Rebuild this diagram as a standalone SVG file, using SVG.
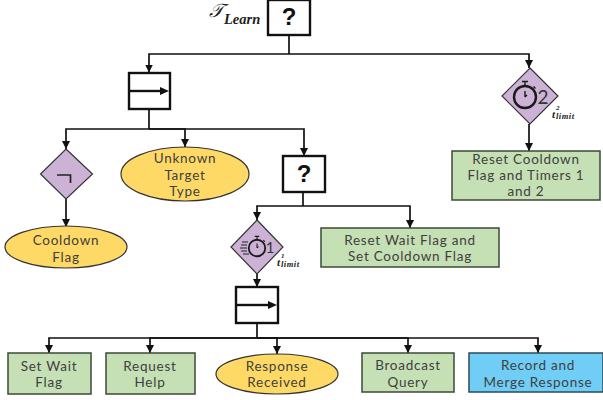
<svg xmlns="http://www.w3.org/2000/svg" width="603" height="400" viewBox="0 0 603 400">
<defs>
<marker id="ah" markerUnits="userSpaceOnUse" markerWidth="9" markerHeight="8" refX="8" refY="4" orient="auto"><path d="M0,0L8,4L0,8Z" fill="#111"/></marker>
<g id="watch"><circle cx="0" cy="0" r="11" fill="none" stroke="#1a1a1a" stroke-width="2.400"/><path d="M-3,-15.500H3M0,-15.500V-11M8.500,-10.500L10.500,-8.500M0,0V-6M0,0L2,-2" fill="none" stroke="#1a1a1a" stroke-width="1.400"/></g>
</defs>
<style>
text{font-family:"Lato","Open Sans","Liberation Sans",sans-serif;font-size:13.500px;letter-spacing:.75px;fill:#404040;text-anchor:middle}
.g{fill:#c5e0b4;stroke:#3c4a38;stroke-width:1.500}
.y{fill:#ffd966;stroke:#333;stroke-width:1.200}
.p{fill:#ccb3d6;stroke:#333;stroke-width:1.200}
.b{fill:#fff;stroke:#111;stroke-width:2.400}
.c{fill:none;stroke:#111;stroke-width:1.700}
.q{font-family:"Liberation Sans",sans-serif;font-size:24px;font-weight:700;fill:#111;letter-spacing:0}
.m{font-family:"Liberation Serif",serif;font-style:italic;font-weight:700;fill:#222;text-anchor:start;letter-spacing:0}
</style>
<g id="connectors" class="c">
<path d="M289,35V54"/><path d="M289,54H149V72.500" marker-end="url(#ah)"/><path d="M289,54H529V68" marker-end="url(#ah)"/>
<path d="M149,109V129"/><path d="M149,129H66V149" marker-end="url(#ah)"/><path d="M149,129H185V147" marker-end="url(#ah)"/><path d="M149,129H304V156" marker-end="url(#ah)"/>
<path d="M66,199V227" marker-end="url(#ah)"/>
<path d="M303,192V206"/><path d="M303,206H257V220" marker-end="url(#ah)"/><path d="M303,206H410V228" marker-end="url(#ah)"/>
<path d="M257,274V287" marker-end="url(#ah)"/>
<path d="M257,323V338"/><path d="M257,338H49V353" marker-end="url(#ah)"/><path d="M257,338H150V353" marker-end="url(#ah)"/><path d="M257,338H277V354" marker-end="url(#ah)"/><path d="M257,338H408V353" marker-end="url(#ah)"/><path d="M257,338H538V353" marker-end="url(#ah)"/>
<path d="M529,124V151" marker-end="url(#ah)"/>
</g>
<g id="root"><rect class="b" x="268" y="0" width="42" height="35"/><text class="q" x="289" y="25">?</text>
<text class="m" x="209" y="17" style="font-size:19px;font-weight:400">𝒯</text><text class="m" x="224" y="24" style="font-size:14.500px">Learn</text></g>
<g id="seq1"><rect class="b" x="129" y="73" width="41" height="36"/><path d="M130,91H160" stroke="#111" stroke-width="2.400"/><path d="M160,87L169,91L160,95Z" fill="#111"/></g>
<g id="timer2"><path class="p" d="M530,68L558,96L530,124L502,96Z"/><use href="#watch" x="525" y="97"/><text x="543" y="104" style="font-size:19px;fill:#333;letter-spacing:0">2</text>
<text class="m" x="552" y="118" style="font-size:11px">t</text><text class="m" x="556" y="110" style="font-size:7px">2</text><text class="m" x="556" y="119" style="font-size:8.500px;letter-spacing:.5px">limit</text></g>
<g id="reset-cooldown"><rect class="g" x="452" y="151" width="148" height="49"/><text x="526" y="163.500">Reset Cooldown</text><text x="526" y="180">Flag and Timers 1</text><text x="526" y="196">and 2</text></g>
<g id="not"><path class="p" d="M66,149L92.500,174L66,199L40.500,174Z"/><path d="M57,175H70.500V183" fill="none" stroke="#222" stroke-width="1.700"/></g>
<g id="cooldown"><ellipse class="y" cx="66" cy="247" rx="61" ry="21"/><text x="66" y="245">Cooldown</text><text x="66" y="262">Flag</text></g>
<g id="unknown"><ellipse class="y" cx="185" cy="174" rx="64" ry="27"/><text x="185" y="163">Unknown</text><text x="185" y="180">Target</text><text x="185" y="196">Type</text></g>
<g id="fallback2"><rect class="b" x="283" y="156" width="42" height="36"/><text class="q" x="304" y="182">?</text></g>
<g id="timer1"><path class="p" d="M257,220L283,247L257,274L231,247Z"/><use href="#watch" transform="translate(257,248) scale(.75)"/><path d="M242,242H248M241,245H247M240,248H247M241,251H247M243,254H249" stroke="#222" stroke-width="1.100"/><text x="270" y="253" style="font-size:15px;fill:#333;letter-spacing:0">1</text>
<text class="m" x="277" y="266" style="font-size:11px">t</text><text class="m" x="281" y="258" style="font-size:7px">1</text><text class="m" x="281" y="267" style="font-size:8.500px;letter-spacing:.5px">limit</text></g>
<g id="reset-wait"><rect class="g" x="321" y="228" width="178" height="39"/><text x="410" y="245">Reset Wait Flag and</text><text x="410" y="261">Set Cooldown Flag</text></g>
<g id="seq2"><rect class="b" x="236" y="287" width="42" height="36"/><path d="M237,305H268" stroke="#111" stroke-width="2.400"/><path d="M268,301L277,305L268,309Z" fill="#111"/></g>
<g id="set-wait"><rect class="g" x="8" y="353" width="83" height="41"/><text x="49" y="371">Set Wait</text><text x="49" y="387">Flag</text></g>
<g id="request-help"><rect class="g" x="106" y="353" width="89" height="41"/><text x="150" y="371">Request</text><text x="150" y="387">Help</text></g>
<g id="response"><ellipse class="y" cx="277" cy="374" rx="61" ry="20"/><text x="277" y="371">Response</text><text x="277" y="387">Received</text></g>
<g id="broadcast"><rect class="g" x="362" y="353" width="92" height="39"/><text x="408" y="370">Broadcast</text><text x="408" y="387">Query</text></g>
<g id="record"><rect x="469" y="353" width="134" height="39" fill="#70cdf5" stroke="#2f4a5a" stroke-width="1.500"/><text x="538" y="370">Record and</text><text x="538" y="387">Merge Response</text></g>
</svg>
